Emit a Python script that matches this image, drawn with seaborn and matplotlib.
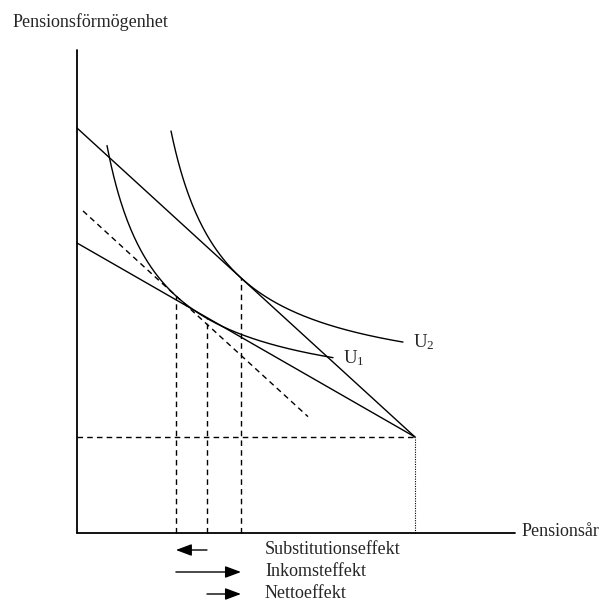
import numpy as np
import pandas as pd
import matplotlib
matplotlib.use("Agg")
import matplotlib.pyplot as plt
import seaborn as sns

# diagram units: origin at the corner of the axes, y up
y_axis_top = 483
x_axis_end = 438
endowment = [338, 96]          # corner point (Pensionsår, Pensionsförmögenhet)
steep_intercept = 405          # new budget line
flat_intercept = 290           # old budget line
u1_params = [-19.7, 128.7, 12860]   # (a, b, k) for (x-a)(y-b)=k
u2_params = [40, 141.8, 14050]
u1_range = [30, 256]
u2_range = [94, 326]
comp_range = [6, 231]
curve_labels = ["U$_1$", "U$_2$"]
effect_names = ["Substitutionseffekt", "Inkomsteffekt", "Nettoeffekt"]
effect_rows = [-17, -39, -61]

sns.set_style("white")
plt.rcParams['font.family'] = ['Liberation Serif', 'DejaVu Serif']
plt.rcParams['mathtext.fontset'] = 'custom'
plt.rcParams['mathtext.rm'] = 'Liberation Serif'
plt.rcParams['mathtext.it'] = 'Liberation Serif'

fig = plt.figure(figsize=(6, 6.01), dpi=100)
ax = fig.add_axes([0, 0, 1, 1])
ax.set_xlim(-77, 523)
ax.set_ylim(-68, 533)
ax.axis('off')

lw = 1.0
ex, ey = endowment

def budget(x0, x1, intercept):
    slope = (intercept - ey) / ex
    xs = np.array([x0, x1])
    return xs, intercept - slope * xs, slope

def hyper(params, rng):
    a, b, k = params
    xs = np.linspace(rng[0], rng[1], 200)
    return xs, b + k / (xs - a)

def tangent_x(params, slope):
    a, b, k = params
    x = a + np.sqrt(k / slope)
    return x, b + k / (x - a)

# axes (estimator=None so vertical line is not averaged away)
sns.lineplot(x=[0.3, 0.3], y=[0, y_axis_top], color='black', lw=1.3,
             estimator=None, sort=False, ax=ax)
sns.lineplot(x=[0, x_axis_end], y=[0, 0], color='black', lw=1.3,
             estimator=None, sort=False, ax=ax)

# budget lines
xs, ys, s_steep = budget(0, ex, steep_intercept)
sns.lineplot(x=xs, y=ys, color='black', lw=lw, ax=ax)
xs, ys, s_flat = budget(0, ex, flat_intercept)
sns.lineplot(x=xs, y=ys, color='black', lw=lw, ax=ax)

# indifference curves
for params, rng, lab in zip([u1_params, u2_params], [u1_range, u2_range], curve_labels):
    xs, ys = hyper(params, rng)
    df = pd.DataFrame({'x': xs, 'y': ys})
    sns.lineplot(data=df, x='x', y='y', color='black', lw=lw, ax=ax, sort=False)
    ax.text(rng[1] + 10, ys[-1], lab, fontsize=13.5, va='center', ha='left')

# tangency points
x_sub, y_sub = tangent_x(u1_params, s_steep)
x_old, y_old = tangent_x(u1_params, s_flat)
x_new, y_new = tangent_x(u2_params, s_steep)

# compensated budget line (dashed)
xs = np.array(comp_range)
ys = y_sub - s_steep * (xs - x_sub)
ax.plot(xs, ys, color='black', lw=lw, dashes=(4, 3))

# dashed guides
for xt, yt in [(x_sub, y_sub), (x_old, y_old), (x_new, y_new)]:
    ax.plot([xt, xt], [0, yt], color='black', lw=lw, dashes=(4, 3))
ax.plot([0, ex], [ey, ey], color='black', lw=lw, dashes=(4, 3))
ax.plot([ex, ex], [0, ey], color='black', lw=0.8, dashes=(1, 1.2))

# axis titles
ax.text(-64, 511, "Pensionsförmögenhet", fontsize=13, va='center', ha='left')
ax.text(445, 1, "Pensionsår", fontsize=13, va='center', ha='left')

# effect arrows
arrows = [(x_old, x_sub), (x_sub, x_new), (x_old, x_new)]
for (x0, x1), yy, name in zip(arrows, effect_rows, effect_names):
    ax.annotate('', xy=(x1, yy), xytext=(x0, yy),
                arrowprops=dict(arrowstyle='-|>,head_length=0.8,head_width=0.3',
                                mutation_scale=12, color='black', lw=lw,
                                shrinkA=0, shrinkB=0))
    ax.text(188, yy, name, fontsize=13, va='center', ha='left')

fig.savefig('out.png', dpi=100)
